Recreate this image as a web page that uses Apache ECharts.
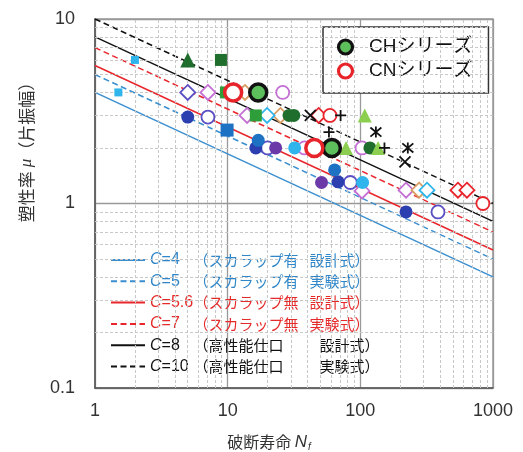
<!DOCTYPE html>
<html><head><meta charset="utf-8">
<script src="https://cdn.jsdelivr.net/npm/echarts@6/dist/echarts.min.js"></script>
<style>html,body{margin:0;padding:0;background:#fff}#c{width:523px;height:452px}</style>
</head><body><div id="c"></div>
<script>
// ---- data ----
const xRange = [1, 1000];
const yRange = [0.1, 10];
const lineNames = ['C=4', 'C=5', 'C=5.6', 'C=7', 'C=8', 'C=10'];
const lineN = [1, 1000];
const lineAtN1 = [4, 5, 5.6, 7, 8, 10];
const lineAtN1000 = [0.4, 0.5, 0.56, 0.7, 0.8, 1.0];
const legendDesc = ['（スカラップ有', '（スカラップ有', '（スカラップ無', '（スカラップ無', '（高性能仕口', '（高性能仕口'];
const legendKind = ['設計式）', '実験式）', '設計式）', '実験式）', '設計式）', '実験式）'];

const cyanSq = [[1.5, 4.0], [2.0, 6.0]];
const dkGreenTri = [[5.0, 6.0]];
const dkGreenSq = [[8.9, 6.0]];
const bpDiamond = [[5.0, 4.0]];
const violetDiamond = [[7.1, 4.0], [14, 3.0], [103, 1.17], [221, 1.18]];
const dkBlueCircle = [[5.0, 2.94], [16.3, 2.0], [68, 1.31], [221, 0.9]];
const bpOpenCircle = [[7.1, 2.94], [20, 2.0], [84, 1.3], [385, 0.9]];
const blueSq = [[9.9, 2.5]];
const greenSq = [[9.7, 4.0], [16.3, 3.0]];
const tanDiamond = [[13.5, 4.0], [25, 3.0], [277, 1.18]];
const violetCircle = [[26, 4.0], [38, 2.0], [103, 2.0]];
const cyanDiamond = [[19.8, 3.0], [318, 1.18]];
const dkGreenCircle = [[29, 3.0], [31.5, 3.0], [118, 2.0]];
const blueCircle = [[17, 2.2], [64, 1.52]];
const purpleCircle = [[23, 2.0], [51, 1.3]];
const cyanCircle = [[32, 2.0], [104, 1.3]];
const blackX = [[42, 3.0], [217, 1.68]];
const redDiamond = [[48.5, 3.0], [544, 1.18], [636, 1.18]];
const redOpenCircle = [[59, 3.0], [839, 1.0]];
const blackPlus = [[71, 3.0], [58, 2.44], [152, 2.0]];
const ltGreenTri = [[78, 2.0], [108, 3.0], [136, 2.0]];
const blackStar = [[131, 2.44], [228, 2.0]];
const chSeries = [[17, 4.0], [61, 2.0]];
const cnSeries = [[11, 4.0], [45, 2.0]];

const xMinor = [2,3,4,5,6,7,8,9,20,30,40,50,60,70,80,90,200,300,400,500,600,700,800,900];
const yMinor = [0.2,0.3,0.4,0.5,0.6,0.7,0.8,0.9,2,3,4,5,6,7,8,9];

// ---- styles ----
const FONT = "'Liberation Sans','Noto Sans CJK JP',sans-serif";
const JFONT = "'Noto Sans CJK JP','Liberation Sans',sans-serif";
const lineColors = ['#3a8fd0', '#3a8fd0', '#e8262c', '#e8262c', '#111', '#111'];
const lineDash = ['solid', [6, 3.5], 'solid', [6, 3.5], 'solid', [6, 3.5]];
const textColors = ['#2f86c8', '#2f86c8', '#e52a2a', '#e52a2a', '#111', '#111'];

const X = 'path://M0,0L10,10M10,0L0,10';
const PLUS = 'path://M0,5L10,5M5,0L5,10';
const STAR = 'path://M0,0L10,10M10,0L0,10M5,-1L5,11';

function sc(data, symbol, size, fill, stroke, bw, name) {
  return {
    type: 'scatter', name: name || undefined, data: data, symbol: symbol, symbolSize: size,
    itemStyle: { color: fill, borderColor: stroke, borderWidth: bw, opacity: 1 },
    z: 5, silent: true, animation: false
  };
}

const series = [];
series.push({
  type: 'line', name: 'minor', data: [], silent: true, animation: false,
  markLine: {
    silent: true, symbol: 'none', animation: false, label: { show: false },
    lineStyle: { color: '#c8c8c8', type: [3, 2], width: 1 },
    data: xMinor.map(v => ({ xAxis: v })).concat(yMinor.map(v => ({ yAxis: v })))
  }
});
lineNames.forEach((n, i) => {
  series.push({
    type: 'line', name: n, symbol: 'none', silent: true, animation: false, z: 3,
    data: [[lineN[0], lineAtN1[i]], [lineN[1], lineAtN1000[i]]],
    lineStyle: { color: lineColors[i], width: 1.5, type: lineDash[i] },
    itemStyle: { color: lineColors[i] }
  });
});
series.push(sc(cyanSq, 'rect', 8, '#2fb5ec', '#2fb5ec', 0));
series.push(sc(dkGreenTri, 'triangle', 15, '#1f6e2e', '#1f6e2e', 0));
series.push(sc(dkGreenSq, 'rect', 12, '#1f6e2e', '#1f6e2e', 0));
series.push(sc(bpDiamond, 'diamond', 15, '#fff', '#5b4fc4', 1.8));
series.push(sc(violetDiamond, 'diamond', 15, '#fff', '#c46fd4', 1.8));
series.push(sc(tanDiamond, 'diamond', 15, '#fff', '#d99d62', 1.8));
series.push(sc(cyanDiamond, 'diamond', 15, '#fff', '#2fb5ec', 1.8));
series.push(sc(redDiamond, 'diamond', 15, '#fff', '#e8242b', 1.8));
series.push(sc(bpOpenCircle, 'circle', 13, '#fff', '#5b4fc4', 1.8));
series.push(sc(violetCircle, 'circle', 13, '#fff', '#c46fd4', 1.8));
series.push(sc(redOpenCircle, 'circle', 13, '#fff', '#e8242b', 1.8));
series.push(sc(blueSq, 'rect', 13, '#1d72c4', '#1d72c4', 0));
series.push(sc(greenSq, 'rect', 12, '#2e9e3a', '#2e9e3a', 0));
series.push(sc(dkGreenCircle, 'circle', 13, '#1f6e2e', '#1f6e2e', 0));
series.push(sc(dkBlueCircle, 'circle', 13, '#2b3fb0', '#2b3fb0', 0));
series.push(sc(blueCircle, 'circle', 13, '#1d72c4', '#1d72c4', 0));
series.push(sc(purpleCircle, 'circle', 13, '#6b3aa8', '#6b3aa8', 0));
series.push(sc(cyanCircle, 'circle', 13, '#2fb5ec', '#2fb5ec', 0));
series.push(sc(ltGreenTri, 'triangle', 14, '#8ccf50', '#8ccf50', 0));
series.push(sc(blackX, X, 11, 'transparent', '#111', 1.8));
series.push(sc(blackPlus, PLUS, 11, 'transparent', '#111', 1.8));
series.push(sc(blackStar, STAR, 11, 'transparent', '#111', 1.8));
series.push(sc(chSeries, 'circle', 17, '#5cbf5c', '#111', 3.5, 'CHシリーズ'));
series.push(sc(cnSeries, 'circle', 17, '#fff', '#e8242b', 3.5, 'CNシリーズ'));

const chart = echarts.init(document.getElementById('c'), null, { renderer: 'canvas' });
chart.setOption({
  animation: false,
  backgroundColor: '#fff',
  grid: { left: 95, right: 30, top: 19, bottom: 64, show: true, borderColor: '#999', borderWidth: 1.5, backgroundColor: 'transparent' },
  xAxis: {
    type: 'log', logBase: 10, min: xRange[0], max: xRange[1],
    axisLine: { show: true, lineStyle: { color: '#555', width: 1.5 } },
    axisTick: { show: false },
    axisLabel: { fontFamily: FONT, fontSize: 18, color: '#333', margin: 14, formatter: v => String(v) },
    splitLine: { show: true, lineStyle: { color: '#999', width: 1.3 } },
    minorTick: { show: false }, minorSplitLine: { show: false }
  },
  yAxis: {
    type: 'log', logBase: 10, min: yRange[0], max: yRange[1],
    axisLine: { show: true, lineStyle: { color: '#555', width: 1.5 } },
    axisTick: { show: false },
    axisLabel: { fontFamily: FONT, fontSize: 18, color: '#333', margin: 20, formatter: v => String(v) },
    splitLine: { show: true, lineStyle: { color: '#999', width: 1.3 } },
    minorTick: { show: false }, minorSplitLine: { show: false }
  },
  legend: [
    {
      data: lineNames.map((n, i) => ({ name: n, textStyle: { color: textColors[i] } })),
      orient: 'vertical', left: 110, top: 252, itemWidth: 34, itemHeight: 14, itemGap: 5.3, padding: 0,
      selectedMode: false,
      itemStyle: { opacity: 0 },
      textStyle: {
        fontFamily: FONT, fontSize: 16, lineHeight: 16,
        rich: {
          c: { fontStyle: 'italic', fontSize: 16, fontFamily: FONT },
          e: { width: 32, fontSize: 16, fontFamily: FONT },
          p: { width: 116, fontSize: 15, fontFamily: JFONT },
          q: { width: 126, fontSize: 15, fontFamily: JFONT },
          t: { fontSize: 15, fontFamily: JFONT }
        }
      },
      formatter: function (name) {
        const i = lineNames.indexOf(name);
        const v = name.slice(1);
        return '{c|C}{e|' + v + '}{' + (i >= 4 ? 'q' : 'p') + '|' + legendDesc[i] + '}{t|' + legendKind[i] + '}';
      }
    },
    {
      data: ['CHシリーズ', 'CNシリーズ'],
      orient: 'vertical', left: 323, top: 27, itemWidth: 15, itemHeight: 15, itemGap: 4,
      padding: [10, 16, 12, 15], backgroundColor: '#fff', borderColor: '#333', borderWidth: 1.5,
      selectedMode: false,
      itemStyle: { opacity: 0 },
      textStyle: { fontFamily: FONT, fontSize: 19, lineHeight: 20, color: '#111', padding: [0, 0, 0, 10] }
    }
  ],
  graphic: [
    {
      type: 'circle', shape: { cx: 345.5, cy: 47, r: 7 }, z: 200, silent: true,
      style: { fill: '#5cbf5c', stroke: '#111', lineWidth: 3.2 }
    },
    {
      type: 'circle', shape: { cx: 345.5, cy: 71, r: 7 }, z: 200, silent: true,
      style: { fill: '#fff', stroke: '#e8242b', lineWidth: 3.2 }
    },
    {
      type: 'text', x: 27, y: 148, rotation: Math.PI / 2, silent: true,
      style: {
        text: '塑性率 {m|μ}（片振幅）', fill: '#333', align: 'center', verticalAlign: 'middle',
        font: "17px " + JFONT,
        rich: { m: { fontStyle: 'italic', fontSize: 17, fontFamily: "'Liberation Serif',serif", fill: '#333' } }
      }
    },
    {
      type: 'text', x: 269, y: 442, silent: true,
      style: {
        text: '破断寿命 {n|N}{s|f}', fill: '#333', align: 'center', verticalAlign: 'middle',
        font: "16px " + JFONT,
        rich: {
          n: { fontStyle: 'italic', fontSize: 17, fontFamily: FONT, fill: '#333' },
          s: { fontStyle: 'italic', fontSize: 10, fontFamily: FONT, fill: '#333', padding: [10, 0, 0, 1] }
        }
      }
    }
  ],
  series: series
});
</script></body></html>
